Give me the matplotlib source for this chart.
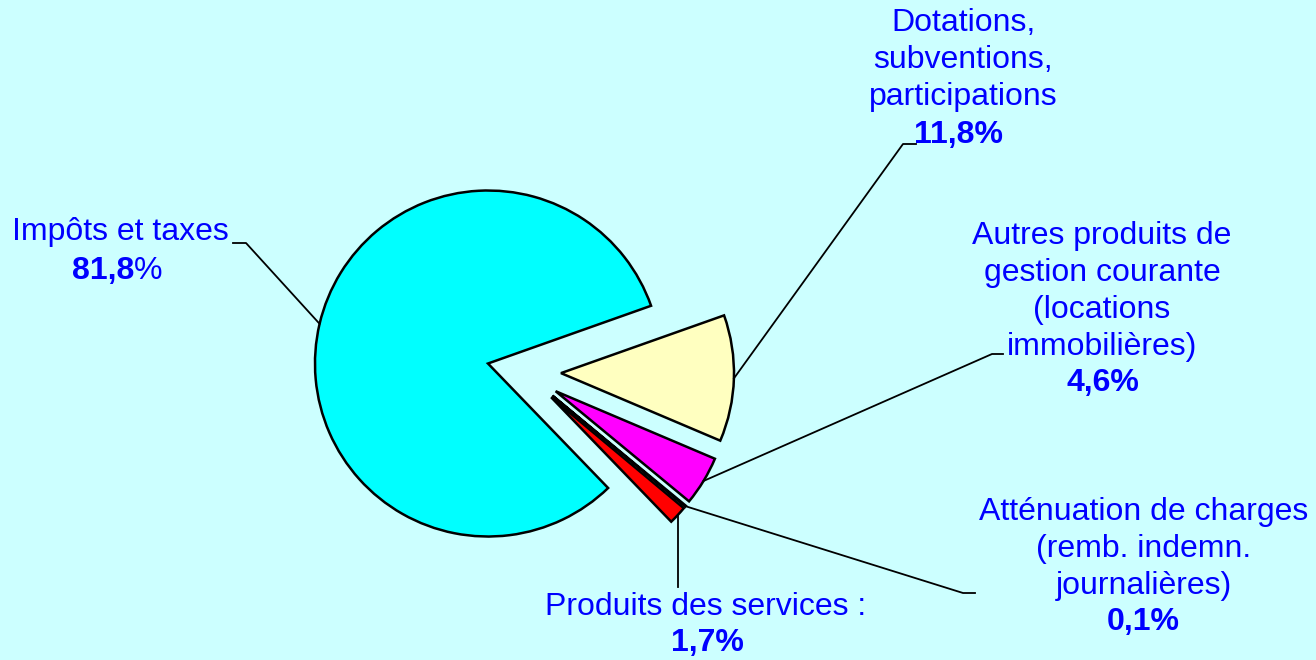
import matplotlib.pyplot as plt
import numpy as np

plt.rcParams['font.family'] = ['Liberation Sans', 'DejaVu Sans']

# Données (ordre anti-horaire à partir de l'angle de départ)
categories = ['Impôts et taxes', 'Produits des services :',
              'Atténuation de charges\n(remb. indemn.\njournalières)',
              'Autres produits de\ngestion courante\n(locations\nimmobilières)',
              'Dotations,\nsubventions,\nparticipations']
valeurs = [81.8, 1.7, 0.1, 4.6, 11.8]
pourcentages = ['81,8', '1,7%', '0,1%', '4,6%', '11,8%']
couleurs = ['#00FFFF', '#FF0000', '#000000', '#FF00FF', '#FFFFC0']

bleu = '#0000FF'
fond = '#CCFFFF'

fig = plt.figure(figsize=(13.16, 6.6), dpi=100, facecolor=fond)
ax = fig.add_axes((0, 0, 1, 1))
ax.set_facecolor(fond)

wedges, _ = ax.pie(valeurs, colors=couleurs, startangle=19.5, radius=173,
                   center=(524, 288), explode=[37] * len(valeurs),
                   wedgeprops=dict(edgecolor='black', linewidth=1.8))
ax.set_xlim(0, 1316)
ax.set_ylim(0, 660)
ax.set_axis_off()


def point_arc(w):
    # point de l'arc sur la bissectrice de la part
    a = np.deg2rad((w.theta1 + w.theta2) / 2)
    cx, cy = w.center
    return cx + w.r * np.cos(a), cy + w.r * np.sin(a)


# lignes de rappel : (coude, fin du trait horizontal)
rappels = [((246, 417), (233, 417)),
           ((675, 73), None),
           ((963, 67), (975, 67)),
           ((992, 306), (1003, 306)),
           ((903, 516), (916, 516))]
for w, (coude, fin) in zip(wedges, rappels):
    x0, y0 = point_arc(w)
    if fin is None:
        ax.plot([x0, x0], [y0, coude[1]], color='black', lw=1.3)
    else:
        ax.plot([x0, coude[0], fin[0]], [y0, coude[1], fin[1]], color='black', lw=1.3)

fs = 23
# étiquettes
ax.text(120, 428, categories[0], color=bleu, fontsize=fs, ha='center', va='center')
ax.text(134, 389, pourcentages[0], color=bleu, fontsize=fs, fontweight='bold', ha='right', va='center')
ax.text(134, 389, '%', color=bleu, fontsize=fs, ha='left', va='center')

positions = {1: ((706, 53), (707, 17)),
             2: ((1144, 111), (1143, 38)),
             3: ((1102, 368.5), (1103, 277)),
             4: ((963, 600), (959, 525))}
for i, (p_nom, p_pct) in positions.items():
    ax.text(*p_nom, categories[i], color=bleu, fontsize=fs, ha='center', va='center',
            linespacing=1.3)
    ax.text(*p_pct, pourcentages[i], color=bleu, fontsize=fs, fontweight='bold',
            ha='center', va='center')

fig.savefig('out.png', dpi=100, facecolor=fond)
